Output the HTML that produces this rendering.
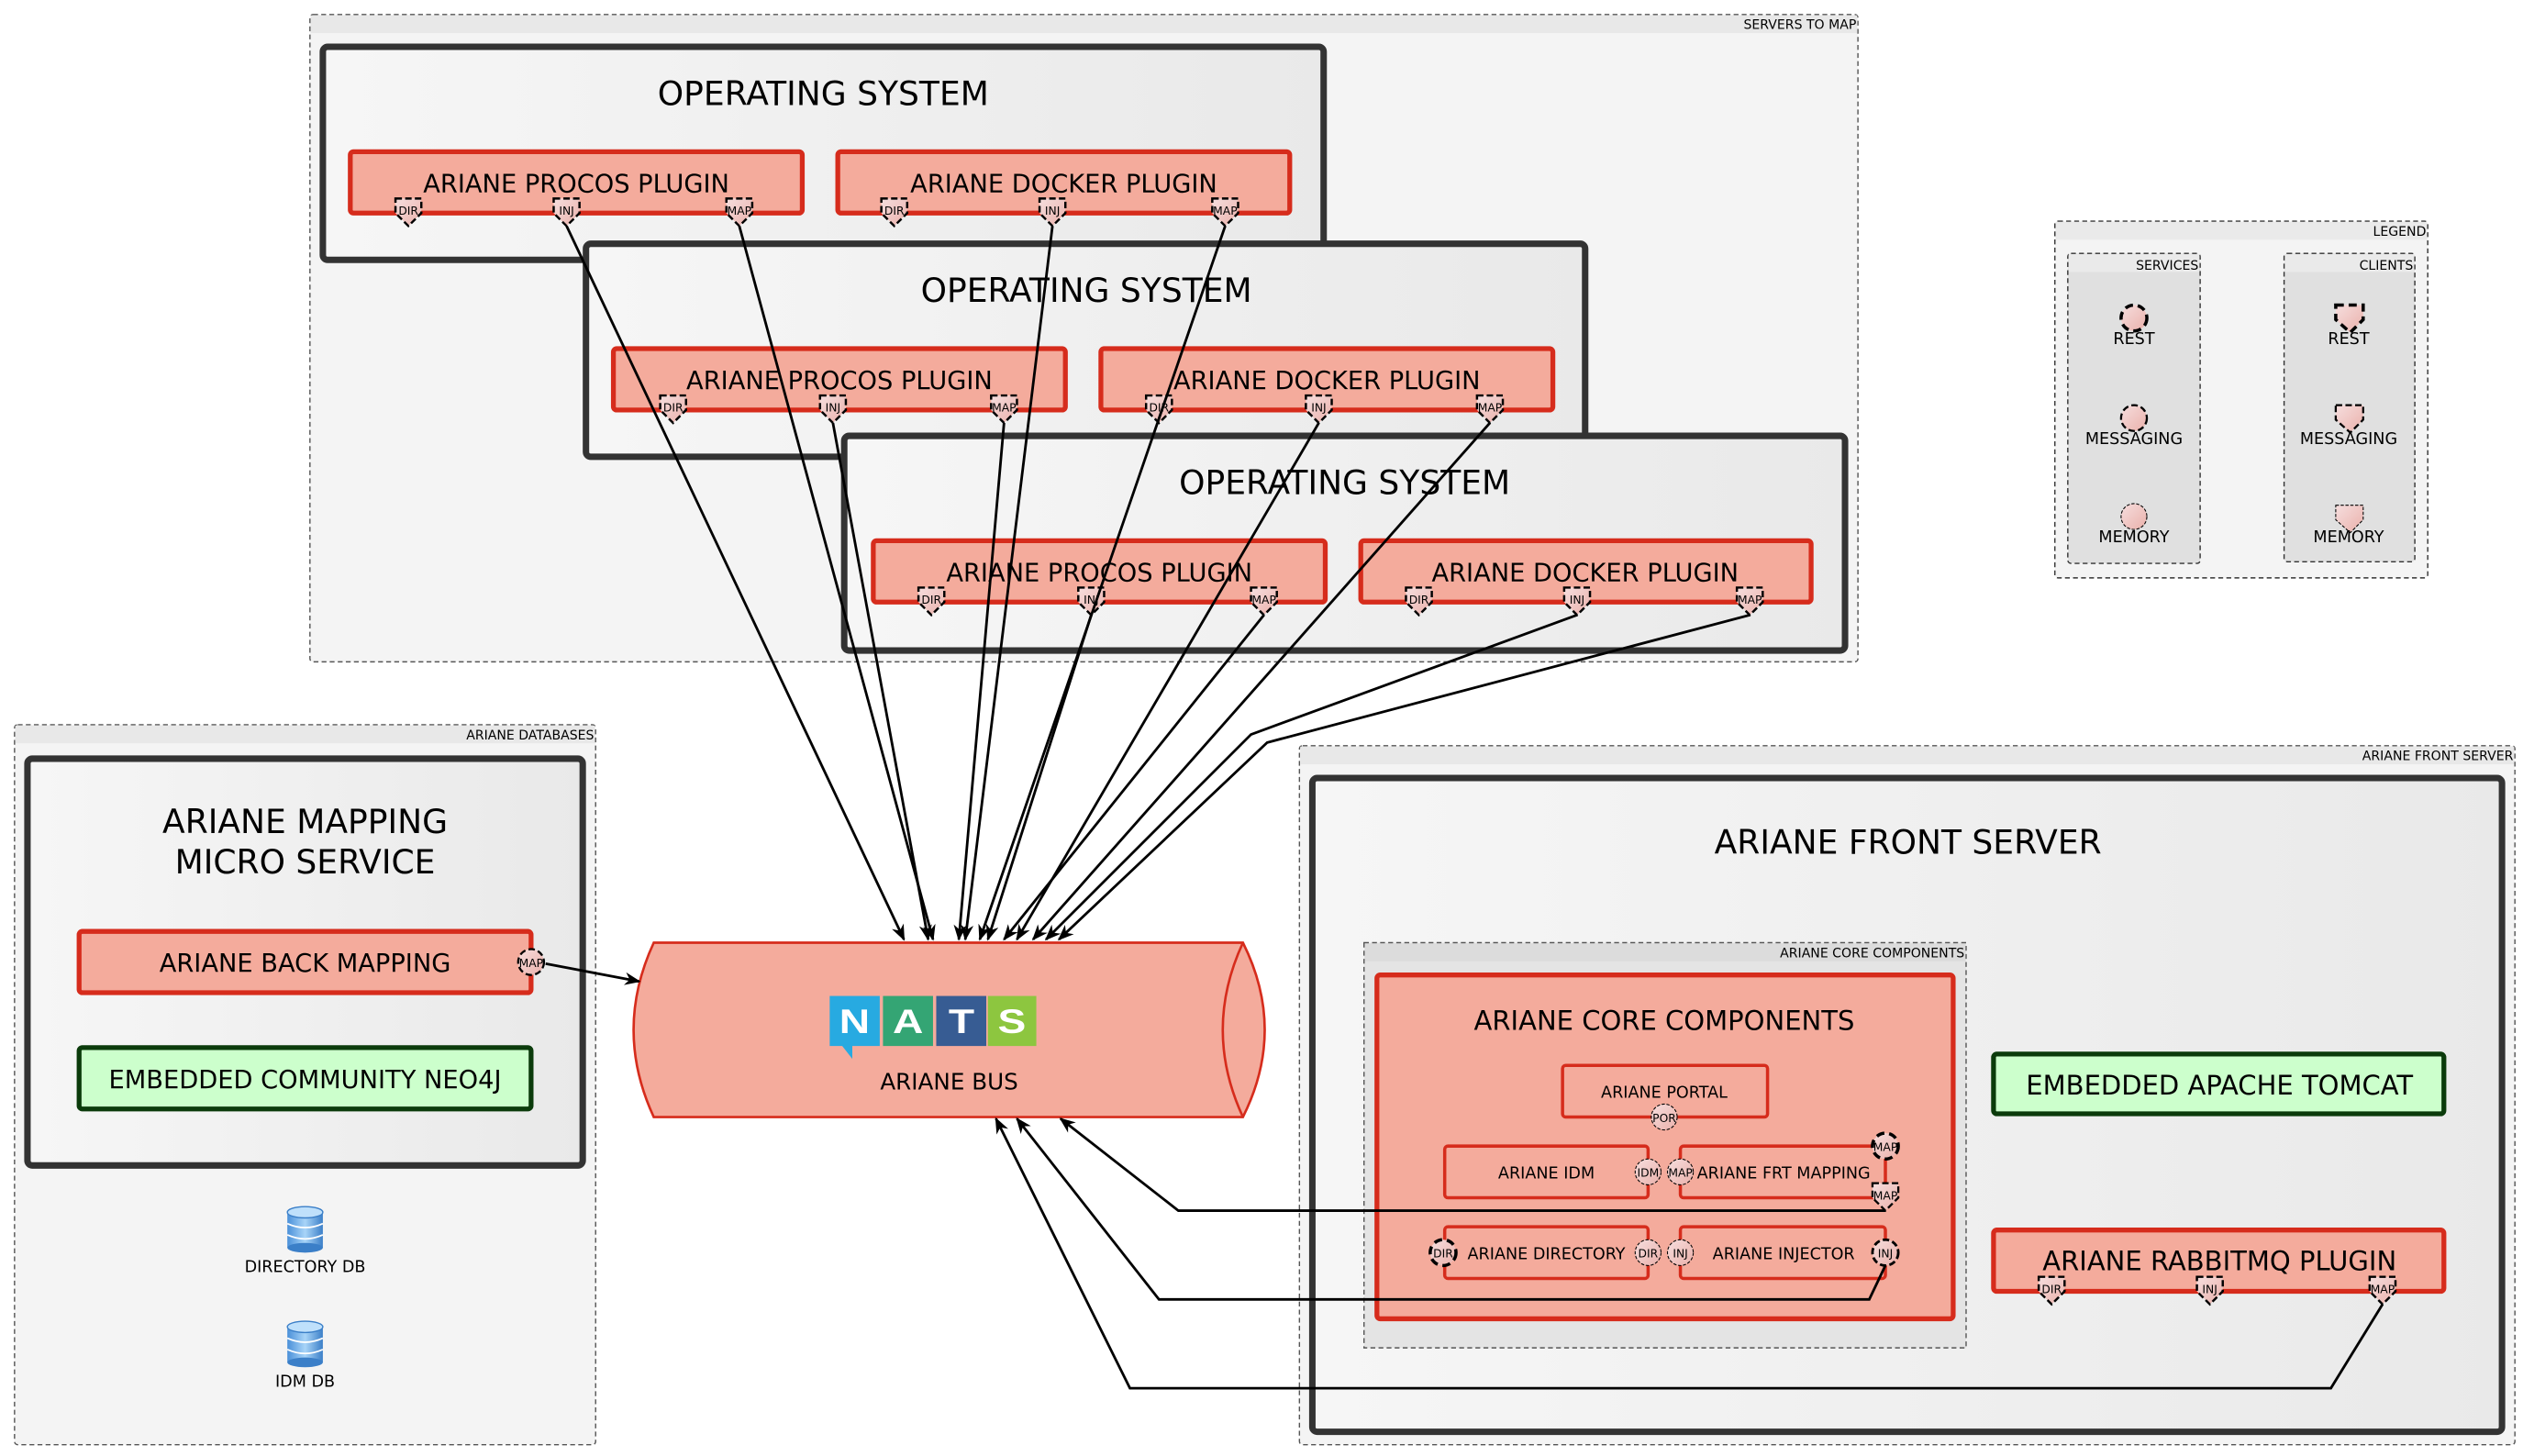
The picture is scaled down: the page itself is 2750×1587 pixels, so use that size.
<!DOCTYPE html>
<html><head><meta charset="utf-8"><style>
html,body{margin:0;padding:0;background:#fff;}
svg{display:block;font-family:"DejaVu Sans","Liberation Sans",sans-serif;}
</style></head><body>
<svg width="2750" height="1587" viewBox="0 0 1563 902" xmlns="http://www.w3.org/2000/svg">
<defs>
<linearGradient id="os" x1="0" x2="1"><stop offset="0" stop-color="#f6f6f6"/><stop offset="1" stop-color="#e9e9e9"/></linearGradient>
<linearGradient id="pt" x1="0" y1="0" x2="1" y2="1"><stop offset="0" stop-color="#f6dede"/><stop offset="1" stop-color="#eab0aa"/></linearGradient>
<marker id="ar" markerWidth="10" markerHeight="8" refX="9" refY="4" orient="auto" markerUnits="userSpaceOnUse"><path d="M0,0 L10,4 L0,8 L3,4 Z" fill="#000"/></marker>
<linearGradient id="db" x1="0" x2="1"><stop offset="0" stop-color="#4a90d9"/><stop offset="0.5" stop-color="#a8d4f8"/><stop offset="1" stop-color="#3b7fc8"/></linearGradient>
</defs>

<!-- SERVERS TO MAP -->
<rect x="192" y="9" width="959" height="401" fill="#f4f4f4" stroke="#555" stroke-dasharray="3,2" stroke-width="0.8" rx="2"/>
<rect x="192.5" y="9.5" width="958" height="11" fill="#e8e8e8"/>
<text x="1150" y="18" font-size="8" text-anchor="end">SERVERS TO MAP</text>

<rect x="200" y="29" width="620" height="132" rx="3" stroke="#333" stroke-width="4" fill="url(#os)"/>
<text x="510" y="65" font-size="20.5" text-anchor="middle">OPERATING SYSTEM</text>
<g font-size="15.5" text-anchor="middle">
<rect x="217" y="94" width="280" height="38" fill="#f4ab9c" stroke="#d62c1c" stroke-width="3" rx="2"/>
<text x="357" y="119">ARIANE PROCOS PLUGIN</text>
<rect x="519" y="94" width="280" height="38" fill="#f4ab9c" stroke="#d62c1c" stroke-width="3" rx="2"/>
<text x="659" y="119">ARIANE DOCKER PLUGIN</text>
</g>
<rect x="363" y="151" width="619" height="132" rx="3" stroke="#333" stroke-width="4" fill="url(#os)"/>
<text x="673" y="187" font-size="20.5" text-anchor="middle">OPERATING SYSTEM</text>
<g font-size="15.5" text-anchor="middle">
<rect x="380" y="216" width="280" height="38" fill="#f4ab9c" stroke="#d62c1c" stroke-width="3" rx="2"/>
<text x="520" y="241">ARIANE PROCOS PLUGIN</text>
<rect x="682" y="216" width="280" height="38" fill="#f4ab9c" stroke="#d62c1c" stroke-width="3" rx="2"/>
<text x="822" y="241">ARIANE DOCKER PLUGIN</text>
</g>
<rect x="523" y="270" width="620" height="133" rx="3" stroke="#333" stroke-width="4" fill="url(#os)"/>
<text x="833" y="306" font-size="20.5" text-anchor="middle">OPERATING SYSTEM</text>
<g font-size="15.5" text-anchor="middle">
<rect x="541" y="335" width="280" height="38" fill="#f4ab9c" stroke="#d62c1c" stroke-width="3" rx="2"/>
<text x="681" y="360">ARIANE PROCOS PLUGIN</text>
<rect x="843" y="335" width="279" height="38" fill="#f4ab9c" stroke="#d62c1c" stroke-width="3" rx="2"/>
<text x="982" y="360">ARIANE DOCKER PLUGIN</text>
</g>

<!-- LEGEND -->
<rect x="1273" y="137" width="231" height="221" fill="#f4f4f4" stroke="#333" stroke-dasharray="3,2" stroke-width="0.8" rx="2"/>
<rect x="1273.5" y="137.5" width="230" height="11" fill="#eaeaea"/>
<text x="1503" y="146" font-size="8" text-anchor="end">LEGEND</text>
<rect x="1281" y="157" width="82" height="192" fill="#e0e0e0" stroke="#333" stroke-dasharray="3,2" stroke-width="0.8" rx="2"/>
<rect x="1281.5" y="157.5" width="81" height="11" fill="#eaeaea"/>
<text x="1362" y="167" font-size="8" text-anchor="end">SERVICES</text>
<rect x="1415" y="157" width="81" height="191" fill="#e0e0e0" stroke="#333" stroke-dasharray="3,2" stroke-width="0.8" rx="2"/>
<rect x="1415.5" y="157.5" width="80" height="11" fill="#eaeaea"/>
<text x="1495" y="167" font-size="8" text-anchor="end">CLIENTS</text>
<circle cx="1322" cy="197" r="8" fill="url(#pt)" stroke="#000" stroke-width="2" stroke-dasharray="5,3"/>
<circle cx="1322" cy="259" r="8" fill="url(#pt)" stroke="#000" stroke-width="1.3" stroke-dasharray="4,2"/>
<circle cx="1322" cy="320" r="8" fill="url(#pt)" stroke="#000" stroke-width="0.6" stroke-dasharray="2,1"/>
<path d="M1447,189 h17 v9 l-8,8 l-9,-8 Z" fill="url(#pt)" stroke="#000" stroke-width="2" stroke-dasharray="5,3"/>
<path d="M1447,251 h17 v9 l-8,8 l-9,-8 Z" fill="url(#pt)" stroke="#000" stroke-width="1.3" stroke-dasharray="4,2"/>
<path d="M1447,313 h17 v9 l-8,8 l-9,-8 Z" fill="url(#pt)" stroke="#000" stroke-width="0.6" stroke-dasharray="2,1"/>
<g font-size="10" text-anchor="middle">
<text x="1322" y="213">REST</text><text x="1322" y="275">MESSAGING</text><text x="1322" y="336">MEMORY</text>
<text x="1455" y="213">REST</text><text x="1455" y="275">MESSAGING</text><text x="1455" y="336">MEMORY</text>
</g>

<!-- ARIANE DATABASES -->
<rect x="9" y="449" width="360" height="446" fill="#f4f4f4" stroke="#555" stroke-dasharray="3,2" stroke-width="0.8" rx="2"/>
<rect x="9.5" y="449.5" width="359" height="11" fill="#e8e8e8"/>
<text x="368" y="458" font-size="8" text-anchor="end">ARIANE DATABASES</text>
<rect x="17" y="470" width="344" height="252" rx="3" stroke="#333" stroke-width="4" fill="url(#os)"/>
<text x="189" y="516" font-size="20.5" text-anchor="middle">ARIANE MAPPING</text>
<text x="189" y="541" font-size="20.5" text-anchor="middle">MICRO SERVICE</text>
<rect x="49" y="577" width="280" height="38" fill="#f4ab9c" stroke="#d62c1c" stroke-width="3" rx="2"/>
<text x="189" y="602" font-size="15.5" text-anchor="middle">ARIANE BACK MAPPING</text>
<circle cx="329" cy="596" r="8" fill="url(#pt)" stroke="#000" stroke-width="1.3" stroke-dasharray="4,2"/>
<text x="329" y="599" font-size="7" text-anchor="middle">MAP</text>
<rect x="49" y="649" width="280" height="38" fill="#ccffcc" stroke="#0b3b0b" stroke-width="3" rx="2"/>
<text x="189" y="674" font-size="15.5" text-anchor="middle">EMBEDDED COMMUNITY NEO4J</text>
<g>
<rect x="178" y="751" width="22" height="22" fill="url(#db)"/>
<ellipse cx="189" cy="751" rx="11" ry="3.5" fill="#bfe0fb" stroke="#3b7fc8" stroke-width="0.8"/>
<path d="M178,758 q11,5 22,0 M178,765 q11,5 22,0" stroke="#fff" fill="none" stroke-width="1"/>
<ellipse cx="189" cy="773" rx="11" ry="3" fill="#3b7fc8"/>
<rect x="178" y="822" width="22" height="22" fill="url(#db)"/>
<ellipse cx="189" cy="822" rx="11" ry="3.5" fill="#bfe0fb" stroke="#3b7fc8" stroke-width="0.8"/>
<path d="M178,829 q11,5 22,0 M178,836 q11,5 22,0" stroke="#fff" fill="none" stroke-width="1"/>
<ellipse cx="189" cy="844" rx="11" ry="3" fill="#3b7fc8"/>
</g>
<text x="189" y="788" font-size="10" text-anchor="middle">DIRECTORY DB</text>
<text x="189" y="859" font-size="10" text-anchor="middle">IDM DB</text>

<!-- ARIANE FRONT SERVER -->
<rect x="805" y="462" width="753" height="433" fill="#f4f4f4" stroke="#555" stroke-dasharray="3,2" stroke-width="0.8" rx="2"/>
<rect x="805.5" y="462.5" width="752" height="11" fill="#e8e8e8"/>
<text x="1557" y="471" font-size="8" text-anchor="end">ARIANE FRONT SERVER</text>
<rect x="813" y="482" width="737" height="405" rx="3" stroke="#333" stroke-width="4" fill="url(#os)"/>
<text x="1182" y="529" font-size="20.5" text-anchor="middle">ARIANE FRONT SERVER</text>
<rect x="845" y="584" width="373" height="251" fill="#e4e4e4" stroke="#555" stroke-dasharray="3,2" stroke-width="0.8"/>
<rect x="845.5" y="584.5" width="372" height="11" fill="#dcdcdc"/>
<text x="1217" y="593" font-size="8" text-anchor="end">ARIANE CORE COMPONENTS</text>
<rect x="853" y="604" width="357" height="213" fill="#f4ab9c" stroke="#d62c1c" stroke-width="3" rx="2"/>
<text x="1031" y="638" font-size="16.5" text-anchor="middle">ARIANE CORE COMPONENTS</text>
<g fill="none" stroke="#d62c1c" stroke-width="2">
<rect x="968" y="660" width="127" height="32" rx="2"/>
<rect x="895" y="710" width="126" height="32" rx="2"/>
<rect x="1041" y="710" width="127" height="32" rx="2"/>
<rect x="895" y="760" width="126" height="32" rx="2"/>
<rect x="1041" y="760" width="127" height="32" rx="2"/>
</g>
<g font-size="10" text-anchor="middle">
<text x="1031" y="680">ARIANE PORTAL</text>
<text x="958" y="730">ARIANE IDM</text>
<text x="1105" y="730">ARIANE FRT MAPPING</text>
<text x="958" y="780">ARIANE DIRECTORY</text>
<text x="1105" y="780">ARIANE INJECTOR</text>
</g>
<g fill="url(#pt)" stroke="#000">
<circle cx="1031" cy="692" r="8" stroke-width="0.6" stroke-dasharray="2,1"/>
<circle cx="1021" cy="726" r="8" stroke-width="0.6" stroke-dasharray="2,1"/>
<circle cx="1041" cy="726" r="8" stroke-width="0.6" stroke-dasharray="2,1"/>
<circle cx="1168" cy="710" r="8" stroke-width="2" stroke-dasharray="5,3"/>
<circle cx="894" cy="776" r="8" stroke-width="2" stroke-dasharray="5,3"/>
<circle cx="1021" cy="776" r="8" stroke-width="0.6" stroke-dasharray="2,1"/>
<circle cx="1041" cy="776" r="8" stroke-width="0.6" stroke-dasharray="2,1"/>
<circle cx="1168" cy="776" r="8" stroke-width="1.6" stroke-dasharray="4,2"/>
<path d="M1160,733 h16 v9 l-8,8 l-8,-8 Z" stroke-width="1.3" stroke-dasharray="4,2"/>
</g>
<g font-size="7" text-anchor="middle">
<text x="1031" y="695">POR</text><text x="1021" y="729">IDM</text><text x="1041" y="729">MAP</text>
<text x="1168" y="713">MAP</text><text x="894" y="779">DIR</text><text x="1021" y="779">DIR</text>
<text x="1041" y="779">INJ</text><text x="1168" y="779">INJ</text><text x="1168" y="743">MAP</text>
</g>
<rect x="1235" y="653" width="279" height="37" fill="#ccffcc" stroke="#0b3b0b" stroke-width="3" rx="2"/>
<text x="1375" y="678" font-size="16.5" text-anchor="middle">EMBEDDED APACHE TOMCAT</text>
<rect x="1235" y="762" width="279" height="38" fill="#f4ab9c" stroke="#d62c1c" stroke-width="3" rx="2"/>
<text x="1375" y="787" font-size="16.5" text-anchor="middle">ARIANE RABBITMQ PLUGIN</text>

<!-- plugin ports (pentagons) -->
<g stroke="#000" stroke-width="1.4" stroke-dasharray="4,2" fill="url(#pt)">
<path d="M245,123 h16 v9 l-8,8 l-8,-8 Z"/><path d="M343,123 h16 v9 l-8,8 l-8,-8 Z"/><path d="M450,123 h16 v9 l-8,8 l-8,-8 Z"/>
<path d="M546,123 h16 v9 l-8,8 l-8,-8 Z"/><path d="M644,123 h16 v9 l-8,8 l-8,-8 Z"/><path d="M751,123 h16 v9 l-8,8 l-8,-8 Z"/>
<path d="M409,245 h16 v9 l-8,8 l-8,-8 Z"/><path d="M508,245 h16 v9 l-8,8 l-8,-8 Z"/><path d="M614,245 h16 v9 l-8,8 l-8,-8 Z"/>
<path d="M710,245 h16 v9 l-8,8 l-8,-8 Z"/><path d="M809,245 h16 v9 l-8,8 l-8,-8 Z"/><path d="M915,245 h16 v9 l-8,8 l-8,-8 Z"/>
<path d="M569,364 h16 v9 l-8,8 l-8,-8 Z"/><path d="M668,364 h16 v9 l-8,8 l-8,-8 Z"/><path d="M775,364 h16 v9 l-8,8 l-8,-8 Z"/>
<path d="M871,364 h16 v9 l-8,8 l-8,-8 Z"/><path d="M969,364 h16 v9 l-8,8 l-8,-8 Z"/><path d="M1076,364 h16 v9 l-8,8 l-8,-8 Z"/>
<path d="M1263,791 h16 v9 l-8,8 l-8,-8 Z"/><path d="M1361,791 h16 v9 l-8,8 l-8,-8 Z"/><path d="M1468,791 h16 v9 l-8,8 l-8,-8 Z"/>
</g>
<g font-size="7" text-anchor="middle">
<text x="253" y="133">DIR</text><text x="351" y="133">INJ</text><text x="458" y="133">MAP</text>
<text x="554" y="133">DIR</text><text x="652" y="133">INJ</text><text x="759" y="133">MAP</text>
<text x="417" y="255">DIR</text><text x="516" y="255">INJ</text><text x="622" y="255">MAP</text>
<text x="718" y="255">DIR</text><text x="817" y="255">INJ</text><text x="923" y="255">MAP</text>
<text x="577" y="374">DIR</text><text x="676" y="374">INJ</text><text x="783" y="374">MAP</text>
<text x="879" y="374">DIR</text><text x="977" y="374">INJ</text><text x="1084" y="374">MAP</text>
<text x="1271" y="801">DIR</text><text x="1369" y="801">INJ</text><text x="1476" y="801">MAP</text>
</g>

<!-- BUS -->
<path d="M405,584 L770,584 Q797,638 770,692 L405,692 Q380,638 405,584 Z" fill="#f4ab9c" stroke="#d62c1c" stroke-width="1.5"/>
<path d="M770,584 Q745,638 770,692" fill="none" stroke="#d62c1c" stroke-width="1.5"/>
<rect x="514" y="617" width="31" height="31" fill="#27aae1"/>
<path d="M521,647 l7,0 0,9 Z" fill="#27aae1"/>
<rect x="547" y="617" width="31" height="31" fill="#34a574"/>
<rect x="580" y="617" width="31" height="31" fill="#375c93"/>
<rect x="612" y="617" width="30" height="31" fill="#8dc63f"/>
<g fill="#fff" font-size="21" font-weight="bold" text-anchor="middle" font-family="Liberation Sans, sans-serif">
<text x="529.5" y="640" transform="scale(1.25,1) translate(-106,0)">N</text>
<text x="562.5" y="640" transform="scale(1.25,1) translate(-112.5,0)">A</text>
<text x="595.5" y="640" transform="scale(1.25,1) translate(-119,0)">T</text>
<text x="627" y="640" transform="scale(1.25,1) translate(-125.5,0)">S</text>
</g>
<text x="588" y="675" font-size="14" text-anchor="middle">ARIANE BUS</text>

<!-- CONNECTORS -->
<g stroke="#000" stroke-width="1.6" fill="none" marker-end="url(#ar)">
<line x1="351" y1="140" x2="560" y2="582"/>
<line x1="458" y1="140" x2="578" y2="582"/>
<line x1="516" y1="262" x2="575" y2="582"/>
<line x1="622" y1="262" x2="594" y2="582"/>
<line x1="652" y1="140" x2="598" y2="582"/>
<line x1="759" y1="140" x2="607" y2="582"/>
<line x1="676" y1="381" x2="612" y2="582"/>
<line x1="783" y1="381" x2="622" y2="582"/>
<line x1="817" y1="262" x2="630" y2="582"/>
<line x1="923" y1="262" x2="640" y2="582"/>
<polyline points="977,381 775,455 648,582"/>
<polyline points="1084,381 785,460 656,582"/>
<line x1="338" y1="597" x2="396" y2="608"/>
<polyline points="1168,750 1148,750 730,750 657,693"/>
<polyline points="1168,784 1158,805 718,805 630,693"/>
<polyline points="1476,808 1444,860 700,860 617,693"/>
</g>
</svg>
</body></html>
